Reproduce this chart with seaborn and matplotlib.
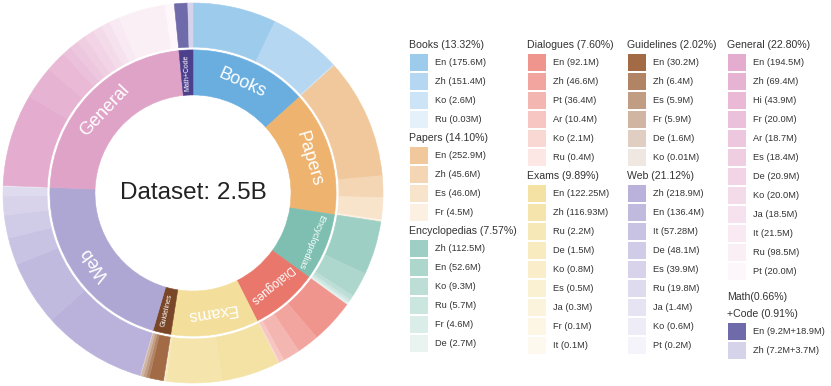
import numpy as np
import matplotlib.pyplot as plt
import seaborn as sns
from matplotlib.patches import Rectangle

# --- data -------------------------------------------------------------
categories = ['Books', 'Papers', 'Encyclopedias', 'Dialogues', 'Exams',
              'Guidelines', 'Web', 'General', 'Math+Code']
shares = [13.32, 14.10, 7.57, 7.60, 9.89, 2.02, 21.12, 22.80, 1.57]
math_share = 0.66
code_share = 0.91

books_langs = ['En', 'Zh', 'Ko', 'Ru']
books_tokens = [175.6, 151.4, 2.6, 0.03]
papers_langs = ['En', 'Zh', 'Es', 'Fr']
papers_tokens = [252.9, 45.6, 46.0, 4.5]
ency_langs = ['Zh', 'En', 'Ko', 'Ru', 'Fr', 'De']
ency_tokens = [112.5, 52.6, 9.3, 5.7, 4.6, 2.7]
dialog_langs = ['En', 'Zh', 'Pt', 'Ar', 'Ko', 'Ru']
dialog_tokens = [92.1, 46.6, 36.4, 10.4, 2.1, 0.4]
exams_langs = ['En', 'Zh', 'Ru', 'De', 'Ko', 'Es', 'Ja', 'Fr', 'It']
exams_tokens = [122.25, 116.93, 2.2, 1.5, 0.8, 0.5, 0.3, 0.1, 0.1]
guide_langs = ['En', 'Zh', 'Es', 'Fr', 'De', 'Ko']
guide_tokens = [30.2, 6.4, 5.9, 5.9, 1.6, 0.01]
web_langs = ['Zh', 'En', 'It', 'De', 'Es', 'Ru', 'Ja', 'Ko', 'Pt']
web_tokens = [218.9, 136.4, 57.28, 48.1, 39.9, 19.8, 1.4, 0.6, 0.2]
general_langs = ['En', 'Zh', 'Hi', 'Fr', 'Ar', 'Es', 'De', 'Ko', 'Ja', 'It', 'Ru', 'Pt']
general_tokens = [194.5, 69.4, 43.9, 20.0, 18.7, 18.4, 20.9, 20.0, 18.5, 21.5, 98.5, 20.0]
mc_langs = ['En', 'Zh']
math_tokens = [9.2, 7.2]
code_tokens = [18.9, 3.7]

# --- styles -----------------------------------------------------------
inner_colors = ['#6AAEE0', '#EDB36F', '#7EBFB1', '#E9776B', '#F3DF9B',
                '#7A4628', '#AFA7D3', '#E0A3C8', '#4C3F8C']
outer_ramps = [('#9DCBEC', '#E4F0FA'), ('#F0C89C', '#FCF0E3'),
               ('#9ECFC4', '#E9F4F1'), ('#EF958D', '#FCE7E5'),
               ('#F4E2A4', '#FEF9EE'), ('#A26B46', '#EFE7E1'),
               ('#BAB2DB', '#F5F4FA'), ('#E4ACCE', '#FDF6FA'),
               ('#6F6AA9', '#D5D3EA')]
label_size = [13, 13, 6.5, 8.5, 12, 5, 13, 13, 5]
label_radial = [False, False, False, False, False, True, False, False, True]
label_shift = [0, 0, 0.04, 0, 0, 0, 0, 0, 0]

sns.set_theme(style='white')
plt.rcParams['font.family'] = ['Liberation Sans', 'DejaVu Sans']

langs = [books_langs, papers_langs, ency_langs, dialog_langs, exams_langs,
         guide_langs, web_langs, general_langs, mc_langs]
tokens = [books_tokens, papers_tokens, ency_tokens, dialog_tokens, exams_tokens,
          guide_tokens, web_tokens, general_tokens,
          list(np.add(math_tokens, code_tokens))]

outer_vals, outer_cols = [], []
for share, tok, ramp in zip(shares, tokens, outer_ramps):
    tok = np.array(tok, dtype=float)
    outer_vals += list(tok / tok.sum() * share)
    outer_cols += sns.blend_palette(list(ramp), len(tok))

fig = plt.figure(figsize=(8.31, 3.86), dpi=100)
ax = fig.add_axes([3 / 831, 3 / 386, 380 / 831, 380 / 386])

r_out, w_out = 1.0, 0.232
r_in, w_in = 0.753, 0.237
wedges, _ = ax.pie(outer_vals, colors=outer_cols, radius=r_out, startangle=90,
                   counterclock=False, wedgeprops=dict(width=w_out, linewidth=0.4))
for w in wedges:
    w.set_edgecolor(w.get_facecolor())
wedges, _ = ax.pie(shares, colors=inner_colors, radius=r_in, startangle=90,
                   counterclock=False, wedgeprops=dict(width=w_in, linewidth=0.4))
for w in wedges:
    w.set_edgecolor(w.get_facecolor())

# inner labels
ends = 90 - np.cumsum(shares) * 3.6
starts = ends + np.array(shares) * 3.6
mids = (starts + ends) / 2
r_lab = r_in - w_in / 2
for name, mid, fs, radial, dr in zip(categories, mids, label_size, label_radial, label_shift):
    rot = mid % 180 if radial else mid - 90
    r = r_lab + dr
    ax.text(r * np.cos(np.radians(mid)), r * np.sin(np.radians(mid)), name,
            rotation=rot, rotation_mode='anchor', ha='center', va='center',
            color='white', fontsize=fs)

ax.text(0, 0, 'Dataset: 2.5B', ha='center', va='center', fontsize=17.5, color='#222222')
ax.set_xlim(-1, 1)
ax.set_ylim(-1, 1)
ax.set_aspect('equal')
ax.axis('off')

# legend drawn in pixel coordinates
lg = fig.add_axes([0, 0, 1, 1])
lg.set_xlim(0, 831)
lg.set_ylim(386, 0)
lg.axis('off')

columns = [(410, [0, 1, 2]), (528, [3, 4]), (628, [5, 6]), (728, [7, 8])]
for x0, idxs in columns:
    y = 45
    for i in idxs:
        ramp = sns.blend_palette(list(outer_ramps[i]), len(langs[i]))
        if categories[i] == 'Math+Code':
            y += 7
            lg.text(x0 - 1, y, f'Math({math_share:.2f}%)', va='center', fontsize=7.6, color='#333333')
            y += 17
            lg.text(x0 - 1, y, f'+Code ({code_share:.2f}%)', va='center', fontsize=7.6, color='#333333')
            items = [f'{l} ({m}M+{c}M)' for l, m, c in zip(langs[i], math_tokens, code_tokens)]
        else:
            lg.text(x0 - 1, y, f'{categories[i]} ({shares[i]:.2f}%)', va='center',
                    fontsize=7.6, color='#333333')
            items = [f'{l} ({t}M)' for l, t in zip(langs[i], tokens[i])]
        y += 17.5
        for lab, col in zip(items, ramp):
            lg.add_patch(Rectangle((x0, y - 8.5), 18, 17, color=col, lw=0))
            lg.text(x0 + 25, y, lab, va='center', fontsize=6.7, color='#333333')
            y += 19
        y -= 0.5

fig.savefig('out.png', dpi=100)
